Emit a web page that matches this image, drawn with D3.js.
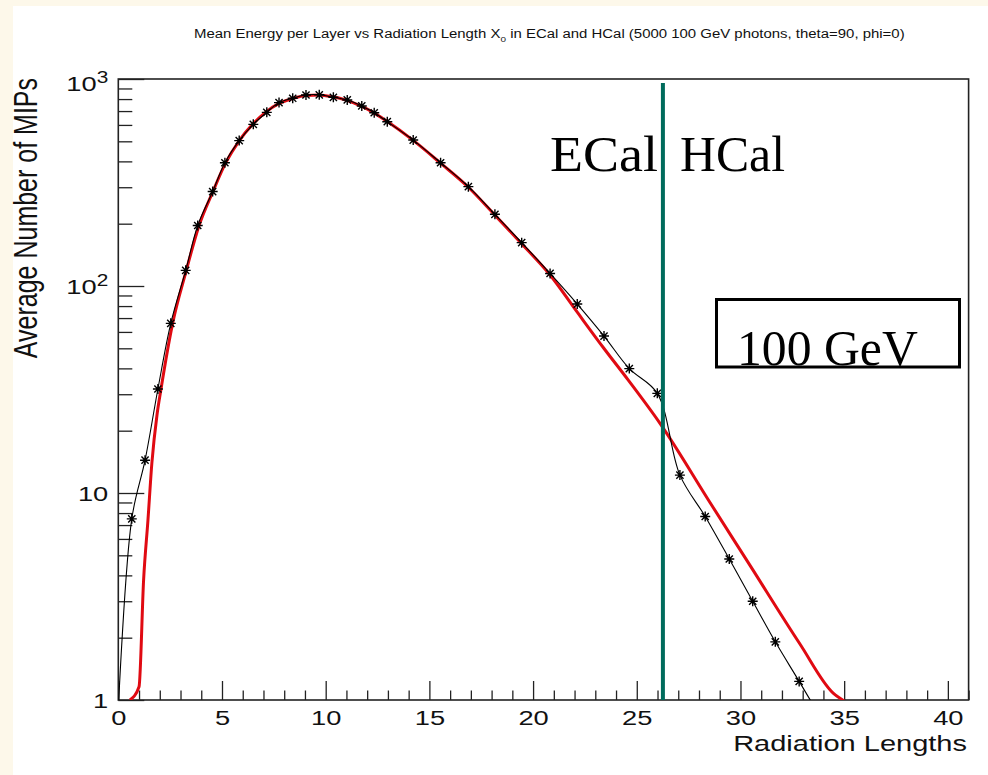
<!DOCTYPE html>
<html>
<head>
<meta charset="utf-8">
<script src="https://cdn.jsdelivr.net/npm/d3@7"></script>
<style>
  body { margin: 0; background: #fdf8ea; }
  svg { display: block; }
  text { font-family: "Liberation Sans", Arial, Helvetica, sans-serif; fill: #111; }
  .serif { font-family: "Liberation Serif", "Times New Roman", serif; fill: #000; }
</style>
</head>
<body>
<div id="chart"></div>
<script>
// Layer positions (radiation lengths) and mean MIPs per layer
const layerX = [0, 0.65, 1.29, 1.91, 2.53, 3.25, 3.83, 4.55, 5.14, 5.83, 6.51, 7.16, 7.75, 8.41, 9.05,
  9.69, 10.37, 11.04, 11.74, 12.34, 12.97,
  14.22, 15.54, 16.88, 18.16, 19.45, 20.82, 22.13, 23.42, 24.64, 25.99,
  27.08, 28.30, 29.46, 30.59, 31.68, 32.83, 33.97];
const layerMips = [0.9, 7.5, 14.4, 31.8, 66, 119, 196, 286, 394, 504, 604, 690, 769, 807, 837,
  839, 816, 792, 741, 687, 622,
  507, 394, 302, 222, 162, 115, 81.8, 57.3, 39.9, 30.3,
  12.2, 7.7, 4.8, 3.0, 1.91, 1.23, 0.79];

// Red fit curve
const fitX = [0.56, 1.0, 1.22, 1.43, 1.62, 1.87, 2.06, 2.62, 3.25, 3.88, 4.55, 5.17, 5.81, 6.46, 7.1,
  7.75, 8.4, 9.04, 9.69, 10.34, 10.98, 11.63, 12.27, 12.92, 14.22, 15.54, 16.88, 18.16, 19.45,
  20.82, 22.13, 23.42, 24.59, 26.12, 28.53, 30.46, 32.86, 34.47, 35.0];
const fitMips = [1.0, 1.16, 3.8, 7.4, 14, 24, 31.8, 66, 116, 194, 284, 392, 500, 602, 690,
  762, 805, 833, 838, 820, 790, 745, 692, 628, 505, 392, 300, 220, 160,
  113, 74.7, 49.9, 35.1, 21.7, 9.0, 4.47, 1.87, 1.08, 0.99];

const ecalHcalBoundary = 26.26;
const xDomain = [0, 41];
const yDomain = [1, 1000];
const xMajorTicks = [0, 5, 10, 15, 20, 25, 30, 35, 40];
const yLabelValues = [1, 10, 100, 1000];

const W = 988, H = 775;
const margin = { top: 79, right: 19.4, bottom: 75, left: 118.3 };
const width = W - margin.left - margin.right;
const height = H - margin.top - margin.bottom;
const SX = 1.3; // canvas was stretched horizontally

const root = d3.select("#chart").append("svg")
  .attr("width", W)
  .attr("height", H);

root.append("rect").attr("x", 13).attr("y", 6).attr("width", W - 13).attr("height", H - 6).attr("fill", "#fff");

const svg = root.append("g").attr("transform", `translate(${margin.left},${margin.top})`);

const x = d3.scaleLinear().domain(xDomain).range([0, width]);
const y = d3.scaleLog().domain(yDomain).range([height, 0]);

svg.append("clipPath").attr("id", "plot-clip")
  .append("rect").attr("width", width).attr("height", height);

// Bottom axis ticks
const xMinor = d3.range(xDomain[0], xDomain[1] + 1).filter(v => v % 5 !== 0);
svg.append("g")
  .attr("transform", `translate(0,${height})`)
  .call(d3.axisBottom(x).tickValues(xMinor).tickSize(-9.5).tickFormat(""))
  .call(g => g.select(".domain").remove());
const xAx = svg.append("g")
  .attr("transform", `translate(0,${height})`)
  .call(d3.axisBottom(x).tickValues(xMajorTicks).tickSize(-19).tickPadding(10).tickFormat(d3.format("d")))
  .call(g => g.select(".domain").remove());
xAx.selectAll("text")
  .attr("transform", `scale(${SX},1)`)
  .style("font-size", "21px")
  .attr("fill", "#111");

// Left axis ticks
const yAll = y.ticks();
const isDecade = v => Math.abs(Math.log10(v) - Math.round(Math.log10(v))) < 1e-6;
svg.append("g")
  .call(d3.axisLeft(y).tickValues(yAll.filter(v => !isDecade(v))).tickSize(-14).tickFormat(""))
  .call(g => g.select(".domain").remove());
svg.append("g")
  .call(d3.axisLeft(y).tickValues(yAll.filter(isDecade)).tickSize(-26).tickFormat(""))
  .call(g => g.select(".domain").remove());
svg.selectAll(".tick line").attr("stroke", "#222").attr("stroke-width", 1.3);

// Y labels: 1, 10, 10^2, 10^3
yLabelValues.forEach(v => {
  const e = Math.round(Math.log10(v));
  const t = svg.append("text")
    .attr("text-anchor", "end")
    .attr("transform", `translate(-10,${Math.max(y(v) + 7.5, 12)}) scale(${SX},1)`)
    .style("font-size", "21px");
  if (e < 2) {
    t.text(v);
  } else {
    t.append("tspan").text("10");
    t.append("tspan").attr("dy", -8).style("font-size", "16px").text(e);
  }
});

// Frame
svg.append("rect")
  .attr("width", width).attr("height", height)
  .attr("fill", "none").attr("stroke", "#222").attr("stroke-width", 1.6);

const plot = svg.append("g").attr("clip-path", "url(#plot-clip)");

// Red fit
const fitData = fitX.map((d, i) => ({ x: d, v: fitMips[i] }));
plot.append("path")
  .datum(fitData)
  .attr("fill", "none")
  .attr("stroke", "#e00a12")
  .attr("stroke-width", 3)
  .attr("stroke-linejoin", "round")
  .attr("d", d3.line().x(d => x(d.x)).y(d => y(d.v)).curve(d3.curveMonotoneX));

// Black smooth curve through layers
const layerData = layerX.map((d, i) => ({ x: d, v: layerMips[i] }));
plot.append("path")
  .datum(layerData)
  .attr("fill", "none")
  .attr("stroke", "#000")
  .attr("stroke-width", 1.1)
  .attr("d", d3.line().x(d => x(d.x)).y(d => y(d.v)).curve(d3.curveCatmullRom.alpha(0.5)));

// Star markers
plot.selectAll("path.star")
  .data(layerData)
  .enter()
  .append("path")
  .attr("class", "star")
  .attr("transform", d => `translate(${x(d.x)},${y(d.v)})`)
  .attr("d", "M-5,0H5M0,-5V5M-3.6,-3.6L3.6,3.6M-3.6,3.6L3.6,-3.6")
  .attr("stroke", "#000")
  .attr("stroke-width", 1.4);

// ECal / HCal boundary
svg.append("line")
  .attr("x1", x(ecalHcalBoundary)).attr("x2", x(ecalHcalBoundary))
  .attr("y1", 4).attr("y2", height)
  .attr("stroke", "#006b5c")
  .attr("stroke-width", 4);

// fit a text element to a target width by horizontal scaling
function fitText(sel, tx, ty, targetWidth, anchor) {
  sel.attr("text-anchor", anchor || "start");
  const w = sel.node().getBBox().width;
  sel.attr("transform", `translate(${tx},${ty}) scale(${targetWidth / w},1)`);
  return sel;
}

fitText(root.append("text").attr("class", "serif").style("font-size", "51px").text("ECal"), 550, 171, 108);
fitText(root.append("text").attr("class", "serif").style("font-size", "51px").text("HCal"), 680, 171, 105);

root.append("rect")
  .attr("x", 716.5).attr("y", 299.5).attr("width", 243).attr("height", 67.5)
  .attr("fill", "#fff").attr("stroke", "#000").attr("stroke-width", 3);
fitText(root.append("text").attr("class", "serif").style("font-size", "51px").text("100 GeV"), 737, 365, 181);

// Title
const title = root.append("text").style("font-size", "12px");
title.append("tspan").text("Mean Energy per Layer vs Radiation Length X");
title.append("tspan").attr("dy", 4).style("font-size", "8px").text("0");
title.append("tspan").attr("dy", -4).text(" in ECal and HCal (5000 100 GeV photons, theta=90, phi=0)");
fitText(title, 194, 38, 711);

// Axis titles
fitText(root.append("text").style("font-size", "22.5px").text("Radiation Lengths"), 967, 751, 234, "end");

root.append("text")
  .attr("text-anchor", "end")
  .attr("transform", `translate(37,78) scale(${SX},1) rotate(-90)`)
  .style("font-size", "25px")
  .text("Average Number of MIPs");
</script>
</body>
</html>
